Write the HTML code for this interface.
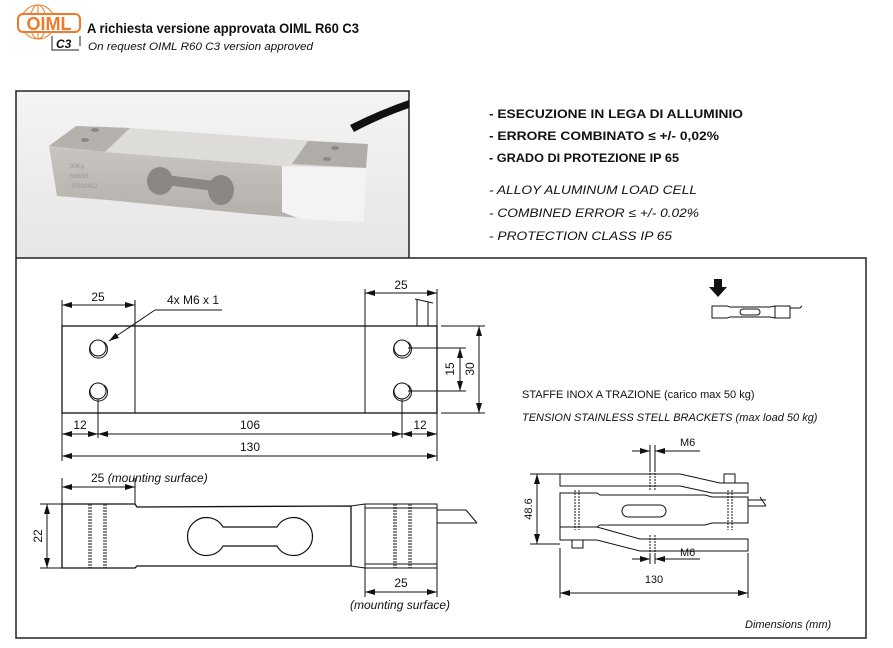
<!DOCTYPE html>
<html><head><meta charset="utf-8"><style>
html,body{margin:0;padding:0;background:#fff;}
svg{display:block;}
text{font-family:"Liberation Sans",Arial,sans-serif;fill:#111;}
</style></head><body>
<svg width="893" height="648" viewBox="0 0 893 648" xmlns="http://www.w3.org/2000/svg">
<defs>
<marker id="a" viewBox="0 0 10 6" refX="10" refY="3" markerWidth="10" markerHeight="6" orient="auto-start-reverse" markerUnits="userSpaceOnUse"><path d="M0,0 L10,3 L0,6 z" fill="#111"/></marker>
<linearGradient id="bg" x1="0" y1="0" x2="0" y2="1"><stop offset="0" stop-color="#f4f4f4"/><stop offset="1" stop-color="#e6e6e6"/></linearGradient>
<linearGradient id="fr" x1="0" y1="0" x2="0" y2="1"><stop offset="0" stop-color="#c9c6c2"/><stop offset="1" stop-color="#b3afaa"/></linearGradient>
</defs>
<g stroke="#f07a2a" fill="none" stroke-width="1">
<circle cx="38" cy="22" r="17"/><ellipse cx="38" cy="22" rx="8" ry="17"/><line x1="38" y1="5" x2="38" y2="39"/><line x1="22" y1="15" x2="54" y2="15"/><line x1="22" y1="30" x2="54" y2="30"/>
</g>
<rect x="18" y="14" width="62" height="18" rx="5" fill="#fff" stroke="#f07a2a" stroke-width="2"/>
<text x="49" y="30" text-anchor="middle" font-size="18" font-weight="bold" style="fill:#f07a2a">OIML</text>
<path d="M52,36 L52,50 L79,50" stroke="#222" fill="none"/><path d="M80,36 L80,46" stroke="#222"/>
<text x="56" y="48" font-size="12" font-weight="bold" font-style="italic">C3</text>
<text x="87" y="33" font-size="14" font-weight="bold" textLength="272" lengthAdjust="spacingAndGlyphs">A richiesta versione approvata OIML R60 C3</text>
<text x="88" y="50" font-size="11" font-style="italic" textLength="225" lengthAdjust="spacingAndGlyphs">On request OIML R60 C3 version approved</text>
<rect x="16" y="91" width="393" height="167" fill="url(#bg)"/>
<g fill="none" stroke="#222" stroke-width="1.5">
<path d="M409,258 L409,91 L16,91 L16,638 L866,638 L866,258 L16,258"/>
</g>
<path d="M350,125 Q380,110 409,100 L409,108 Q380,118 354,132 Z" fill="#111"/>
<path d="M76,126 L130,128 L300,140 L368,144 L366,168 L282,168 L105,152 L49,146 Z" fill="#dedcd9"/>
<path d="M76,126 L130,128 L105,152 L49,146 Z" fill="#b5b2ae"/>
<path d="M308,141 L368,144 L366,168 L292,164 Z" fill="#b0ada9"/>
<path d="M49,146 L105,152 L282,166 L282,212 L300,214 L300,218 L250,214 L108,200 L57,196 Z" fill="url(#fr)"/>
<path d="M282,166 L366,168 L364,222 L300,219 L282,212 Z" fill="#f3f3f3"/>
<ellipse cx="160" cy="181" rx="13" ry="14" fill="#8a8785"/><ellipse cx="221" cy="190" rx="13" ry="15" fill="#8a8785"/>
<rect x="160" y="178" width="61" height="10" fill="#8a8785" transform="rotate(7 190 183)"/>
<ellipse cx="95" cy="130" rx="4" ry="2" fill="#888"/><ellipse cx="85" cy="140" rx="4" ry="2" fill="#888"/>
<ellipse cx="335" cy="148" rx="4" ry="2" fill="#888"/><ellipse cx="327" cy="159" rx="4" ry="2" fill="#888"/>
<text x="70" y="168" font-size="6" style="fill:#999">30Kg</text><text x="70" y="178" font-size="6" style="fill:#999">N663R</text><text x="72" y="188" font-size="6" style="fill:#999">GS92422</text>
<g font-size="12" font-weight="bold">
<text x="489" y="118" textLength="254" lengthAdjust="spacingAndGlyphs">- ESECUZIONE IN LEGA DI ALLUMINIO</text>
<text x="489" y="140" textLength="230" lengthAdjust="spacingAndGlyphs">- ERRORE COMBINATO ≤ +/- 0,02%</text>
<text x="489" y="162" textLength="190" lengthAdjust="spacingAndGlyphs">- GRADO DI PROTEZIONE IP 65</text>
</g>
<g font-size="12" font-style="italic">
<text x="489" y="194" textLength="208" lengthAdjust="spacingAndGlyphs">- ALLOY ALUMINUM LOAD CELL</text>
<text x="489" y="217" textLength="210" lengthAdjust="spacingAndGlyphs">- COMBINED ERROR ≤ +/- 0.02%</text>
<text x="489" y="240" textLength="183" lengthAdjust="spacingAndGlyphs">- PROTECTION CLASS IP 65</text>
</g>
<g stroke="#111" fill="none" stroke-width="1">
<rect x="62" y="326" width="375" height="87" stroke-width="1.3"/>
<line x1="135" y1="326" x2="135" y2="413"/><line x1="365" y1="326" x2="365" y2="413"/>
<circle cx="98" cy="348" r="8"/><circle cx="98" cy="391" r="8"/><circle cx="402" cy="348" r="8"/><circle cx="402" cy="391" r="8"/>
<path d="M93,342 A9,9 0 1 0 104,342"/><path d="M93,385 A9,9 0 1 0 104,385"/>
<path d="M397,342 A9,9 0 1 0 408,342"/><path d="M397,385 A9,9 0 1 0 408,385"/>
<line x1="62" y1="300" x2="62" y2="326"/><line x1="135" y1="300" x2="135" y2="326"/>
<line x1="62" y1="305" x2="135" y2="305" marker-start="url(#a)" marker-end="url(#a)"/>
<line x1="155" y1="310" x2="222" y2="310"/><line x1="155" y1="310" x2="109" y2="341" marker-end="url(#a)"/>
<line x1="365" y1="289" x2="365" y2="326"/><line x1="437" y1="289" x2="437" y2="326"/>
<line x1="365" y1="293" x2="437" y2="293" marker-start="url(#a)" marker-end="url(#a)"/>
<line x1="417" y1="300" x2="417" y2="326"/><line x1="428" y1="302" x2="428" y2="326"/><line x1="415" y1="299" x2="433" y2="303"/>
<line x1="408" y1="348" x2="466" y2="348"/><line x1="408" y1="391" x2="466" y2="391"/>
<line x1="460" y1="348" x2="460" y2="391" marker-start="url(#a)" marker-end="url(#a)"/>
<line x1="441" y1="326" x2="485" y2="326"/><line x1="441" y1="413" x2="485" y2="413"/>
<line x1="479" y1="326" x2="479" y2="413" marker-start="url(#a)" marker-end="url(#a)"/>
<line x1="62" y1="413" x2="62" y2="461"/><line x1="437" y1="413" x2="437" y2="461"/>
<line x1="98" y1="399" x2="98" y2="438"/><line x1="402" y1="399" x2="402" y2="438"/>
<line x1="62" y1="434" x2="98" y2="434" marker-start="url(#a)" marker-end="url(#a)"/>
<line x1="98" y1="434" x2="402" y2="434" marker-start="url(#a)" marker-end="url(#a)"/>
<line x1="402" y1="434" x2="437" y2="434" marker-start="url(#a)" marker-end="url(#a)"/>
<line x1="62" y1="456" x2="437" y2="456" marker-start="url(#a)" marker-end="url(#a)"/>
</g>
<g font-size="12">
<text x="98" y="301" text-anchor="middle">25</text>
<text x="167" y="304">4x M6 x 1</text>
<text x="401" y="289" text-anchor="middle">25</text>
<text x="80" y="429" text-anchor="middle">12</text>
<text x="250" y="429" text-anchor="middle">106</text>
<text x="420" y="429" text-anchor="middle">12</text>
<text x="250" y="451" text-anchor="middle">130</text>
<text transform="translate(454,369) rotate(-90)" text-anchor="middle">15</text>
<text transform="translate(474,369) rotate(-90)" text-anchor="middle">30</text>
<text x="91" y="482">25 <tspan font-style="italic">(mounting surface)</tspan></text>
<text transform="translate(42,536) rotate(-90)" text-anchor="middle">22</text>
<text x="401" y="587" text-anchor="middle">25</text>
<text x="350" y="609" font-style="italic">(mounting surface)</text>
</g>
<g stroke="#111" fill="none" stroke-width="1">
<path d="M62,504 L135,504 L137,507 L351,506 L351,566 L137,566 L135,568 L62,568 Z" stroke-width="1.3"/>
<path d="M351,506 L365,504 L437,504 L437,568 L365,568 L351,566"/>
<line x1="365" y1="504" x2="365" y2="568"/><line x1="365" y1="508" x2="437" y2="508"/><line x1="365" y1="564" x2="437" y2="564"/>
<path d="M223,527 L277,527 A19,19 0 1 1 277,546 L223,546 A19,19 0 1 1 223,527 Z" stroke-width="1.2"/>
<g stroke-dasharray="2,1"><line x1="89" y1="504" x2="89" y2="568"/><line x1="91" y1="504" x2="91" y2="568"/><line x1="104" y1="504" x2="104" y2="568"/><line x1="106" y1="504" x2="106" y2="568"/>
<line x1="394" y1="504" x2="394" y2="568"/><line x1="396" y1="504" x2="396" y2="568"/><line x1="409" y1="504" x2="409" y2="568"/><line x1="411" y1="504" x2="411" y2="568"/></g>
<line x1="437" y1="510" x2="466" y2="510"/><line x1="437" y1="523" x2="477" y2="523"/><line x1="466" y1="510" x2="477" y2="523"/>
<line x1="62" y1="478" x2="62" y2="504"/><line x1="135" y1="478" x2="135" y2="504"/>
<line x1="62" y1="487" x2="135" y2="487" marker-start="url(#a)" marker-end="url(#a)"/>
<line x1="40" y1="504" x2="62" y2="504"/><line x1="40" y1="568" x2="62" y2="568"/>
<line x1="47" y1="504" x2="47" y2="568" marker-start="url(#a)" marker-end="url(#a)"/>
<line x1="365" y1="568" x2="365" y2="597"/><line x1="437" y1="568" x2="437" y2="597"/>
<line x1="365" y1="592" x2="437" y2="592" marker-start="url(#a)" marker-end="url(#a)"/>
</g>
<path d="M714,279 L722,279 L722,287 L727,287 L718,297 L709,287 L714,287 Z" fill="#111"/>
<g stroke="#111" fill="none" stroke-width="1">
<path d="M712,306 L727,306 L730,307 L770,307 L775,306 L790,306 L790,318 L775,318 L770,317 L730,317 L727,318 L712,318 Z"/>
<line x1="775" y1="306" x2="775" y2="318"/><line x1="790" y1="308" x2="800" y2="308"/><line x1="800" y1="308" x2="802" y2="306"/>
<path d="M743,309 L757,309 A3,3 0 1 1 757,315 L743,315 A3,3 0 1 1 743,309 Z"/>
</g>
<g font-size="11">
<text x="522" y="398">STAFFE INOX A TRAZIONE (carico max 50 kg)</text>
<text x="522" y="421" font-style="italic">TENSION STAINLESS STELL BRACKETS (max load 50 kg)</text>
<text x="680" y="446">M6</text>
<text x="680" y="556">M6</text>
<text x="654" y="583" text-anchor="middle">130</text>
<text transform="translate(532,509) rotate(-90)" text-anchor="middle">48.6</text>
<text x="745" y="628" font-style="italic">Dimensions (mm)</text>
</g>
<g stroke="#111" fill="none" stroke-width="1">
<path d="M560,474 L680,474 L720,483 L748,483 L748,493 L712,493 L680,486 L560,486 Z"/>
<path d="M560,493 L597,493 L600,495 L705,495 L712,497 L748,497 L748,523 L712,523 L705,525 L600,525 L597,527 L560,527 Z"/>
<path d="M560,527 L597,527 L640,539 L748,539 L748,551 L640,551 L597,540 L560,540 Z"/>
<path d="M628,505 L660,505 A6,6 0 1 1 660,517 L628,517 A6,6 0 1 1 628,505 Z"/>
<rect x="724" y="474" width="11" height="9"/><rect x="572" y="540" width="11" height="8"/>
<g stroke-dasharray="2,1"><line x1="575" y1="490" x2="575" y2="530"/><line x1="579" y1="490" x2="579" y2="530"/>
<line x1="728" y1="490" x2="728" y2="530"/><line x1="732" y1="490" x2="732" y2="530"/>
<line x1="650" y1="470" x2="650" y2="490"/><line x1="655" y1="470" x2="655" y2="490"/>
<line x1="650" y1="535" x2="650" y2="555"/><line x1="655" y1="535" x2="655" y2="555"/></g>
<line x1="748" y1="500" x2="766" y2="500"/><line x1="748" y1="506" x2="766" y2="506"/><line x1="760" y1="497" x2="766" y2="506"/>
<line x1="530" y1="474" x2="560" y2="474"/><line x1="530" y1="544" x2="560" y2="544"/>
<line x1="537" y1="474" x2="537" y2="544" marker-start="url(#a)" marker-end="url(#a)"/>
<line x1="560" y1="548" x2="560" y2="598"/><line x1="748" y1="553" x2="748" y2="598"/>
<line x1="560" y1="593" x2="748" y2="593" marker-start="url(#a)" marker-end="url(#a)"/>
<line x1="632" y1="451" x2="650" y2="451" marker-end="url(#a)"/><line x1="700" y1="451" x2="655" y2="451" marker-end="url(#a)"/>
<line x1="632" y1="559" x2="650" y2="559" marker-end="url(#a)"/><line x1="700" y1="559" x2="655" y2="559" marker-end="url(#a)"/>
<line x1="650" y1="445" x2="650" y2="470"/><line x1="655" y1="445" x2="655" y2="470"/>
<line x1="650" y1="555" x2="650" y2="564"/><line x1="655" y1="555" x2="655" y2="564"/>
</g>
</svg>
</body></html>
